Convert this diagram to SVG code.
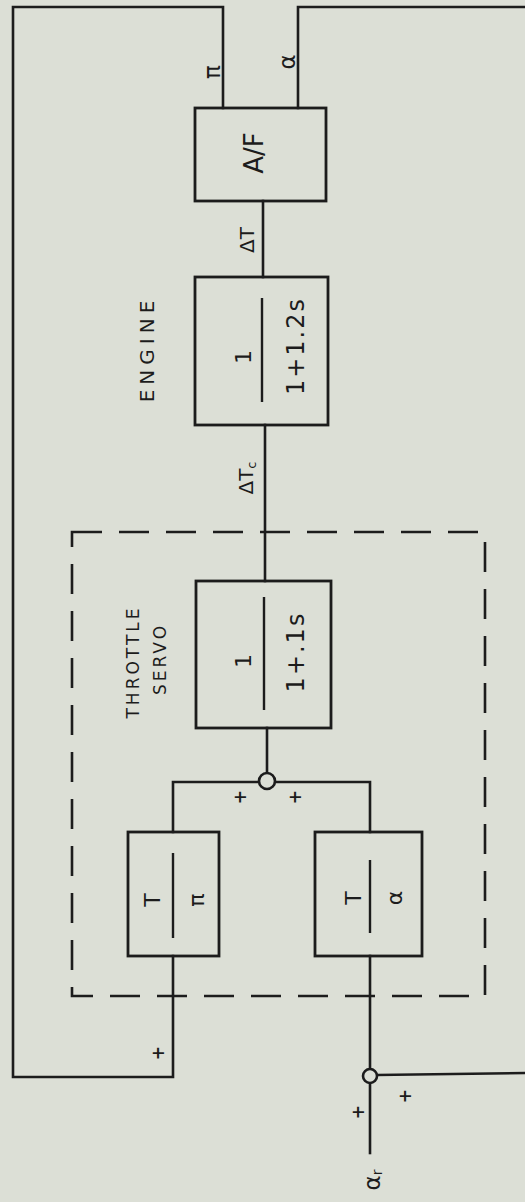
<svg xmlns="http://www.w3.org/2000/svg" width="525" height="1202" viewBox="0 0 525 1202">
<style>
.ln{fill:none;stroke:#1c1c1c;stroke-width:2.6;stroke-linejoin:miter;stroke-linecap:square}
.box{fill:none;stroke:#1c1c1c;stroke-width:2.8}
.div{stroke:#1c1c1c;stroke-width:2.4}
.dash{fill:none;stroke:#1c1c1c;stroke-width:2.6;stroke-dasharray:30 17}
.sum{fill:#dcdfd6;stroke:#1c1c1c;stroke-width:2.6}
.t{font-family:"DejaVu Sans","Liberation Sans",sans-serif;fill:#1c1c1c;text-anchor:middle;dominant-baseline:central}
.lbl{font-size:20px}
.sym{font-size:23px}
.big{font-size:22px}
.den{font-size:24px;letter-spacing:2px}
.af{font-size:26px}
.small{font-size:17px;letter-spacing:3px;font-weight:500}
.plus{font-family:"DejaVu Sans",sans-serif;font-size:17px;font-weight:bold;fill:#1c1c1c;text-anchor:middle;dominant-baseline:central}
</style>
<rect width="525" height="1202" fill="#dcdfd6"/>
<g id="connectors">
<polyline class="ln" points="173,956 173,1077 13,1077 13,7 223,7 223,108"/>
<polyline class="ln" points="298,108 298,7 525,7"/>
<line class="ln" x1="263" y1="201" x2="263" y2="277"/>
<line class="ln" x1="265" y1="425" x2="265" y2="581"/>
<line class="ln" x1="267" y1="728" x2="267" y2="773"/>
<polyline class="ln" points="173,832 173,782 259,782"/>
<polyline class="ln" points="275,782 370,782 370,832"/>
<line class="ln" x1="370" y1="956" x2="370" y2="1069"/>
<line class="ln" x1="377" y1="1075" x2="525" y2="1073"/>
<line class="ln" x1="370" y1="1083" x2="370" y2="1153"/>
</g>
<g id="servo-boundary">
<rect class="dash" x="72" y="532" width="413" height="464"/>
</g>
<g id="sum1"><circle class="sum" cx="267" cy="781" r="8"/></g>
<g id="sum2"><circle class="sum" cx="370" cy="1076" r="7"/></g>
<g id="af">
<rect class="box" x="195" y="108" width="131" height="93"/>
<text class="t af" transform="translate(254,153) rotate(-90)">A/F</text>
</g>
<g id="engine">
<rect class="box" x="195" y="277" width="133" height="148"/>
<line class="div" x1="262" y1="298" x2="262" y2="402"/>
<text class="t big" transform="translate(243,357) rotate(-90)">1</text>
<text class="t den" transform="translate(296,346) rotate(-90)">1+1.2s</text>
<text class="t lbl" transform="translate(147,349) rotate(-90)" letter-spacing="5">ENGINE</text>
</g>
<g id="throttle">
<rect class="box" x="196" y="581" width="135" height="147"/>
<line class="div" x1="264" y1="597" x2="264" y2="710"/>
<text class="t big" transform="translate(243,661) rotate(-90)">1</text>
<text class="t den" transform="translate(296,652) rotate(-90)" letter-spacing="4">1+.1s</text>
<text class="t small" transform="translate(133,662) rotate(-90)">THROTTLE</text>
<text class="t small" transform="translate(160,659) rotate(-90)">SERVO</text>
</g>
<g id="kpi">
<rect class="box" x="128" y="832" width="91" height="124"/>
<line class="div" x1="173" y1="853" x2="173" y2="938"/>
<text class="t big" transform="translate(152,900) rotate(-90)">T</text>
<text class="t big" transform="translate(196,900) rotate(-90)">π</text>
</g>
<g id="kalpha">
<rect class="box" x="315" y="832" width="107" height="124"/>
<line class="div" x1="370" y1="860" x2="370" y2="933"/>
<text class="t big" transform="translate(353,898) rotate(-90)">T</text>
<text class="t big" transform="translate(394,898) rotate(-90)">α</text>
</g>
<g id="labels">
<text class="t sym" transform="translate(212,72) rotate(-90)">π</text>
<text class="t sym" transform="translate(287,62) rotate(-90)">α</text>
<text class="t lbl" transform="translate(247,240) rotate(-90)">ΔT</text>
<text class="t lbl" transform="translate(246,478) rotate(-90)">ΔT<tspan font-size="13" dy="5">c</tspan></text>
<text class="t sym" transform="translate(372,1180) rotate(-90)">α<tspan font-size="14" dy="5">r</tspan></text>
<text class="plus" transform="translate(240,797) rotate(-90)">+</text>
<text class="plus" transform="translate(295,797) rotate(-90)">+</text>
<text class="plus" transform="translate(158,1053) rotate(-90)">+</text>
<text class="plus" transform="translate(405,1096) rotate(-90)">+</text>
<text class="plus" transform="translate(358,1112) rotate(-90)">+</text>
</g>
</svg>
